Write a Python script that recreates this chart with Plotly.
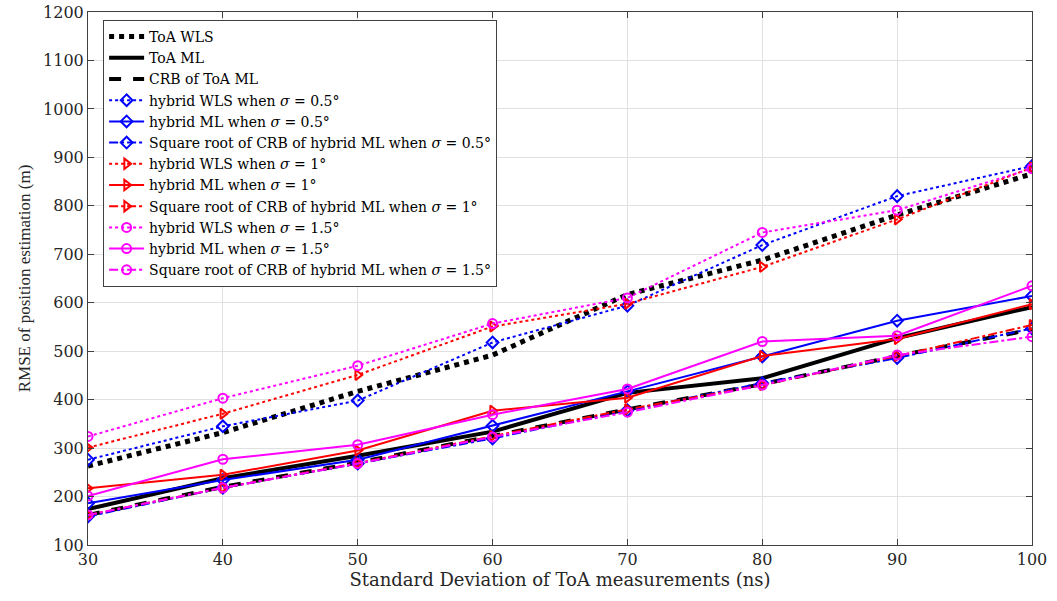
import plotly.graph_objects as go

x_ns = [30, 40, 50, 60, 70, 80, 90, 100]

toa_wls = [263, 332, 417, 492, 617, 688, 781, 866]
toa_ml = [174, 238, 284, 334, 414, 444, 527, 591]
toa_crb = [162, 220, 270, 325, 380, 432, 490, 545]

h05_wls = [276, 345, 398, 518, 594, 719, 820, 882]
h05_ml = [186, 234, 276, 346, 417, 489, 563, 614]
h05_crb = [159, 218, 268, 320, 378, 434, 486, 547]

h1_wls = [301, 371, 451, 551, 598, 674, 772, 879]
h1_ml = [217, 245, 295, 377, 404, 490, 525, 597]
h1_crb = [162, 218, 269, 325, 380, 430, 490, 554]

h15_wls = [324, 403, 470, 557, 610, 745, 791, 877]
h15_ml = [201, 277, 307, 369, 422, 520, 532, 635]
h15_crb = [162, 218, 268, 323, 374, 430, 492, 530]

def lab(kind, s):
    return f"{kind} when <i>σ</i> = {s}°"

series = [
    ("ToA WLS", toa_wls, "black", "dot", 5, None),
    ("ToA ML", toa_ml, "black", "solid", 4, None),
    ("CRB of ToA ML", toa_crb, "black", "dash", 4, None),
    (lab("hybrid WLS", "0.5"), h05_wls, "blue", "dot", 2, "diamond-open"),
    (lab("hybrid ML", "0.5"), h05_ml, "blue", "solid", 2, "diamond-open"),
    (lab("Square root of CRB of hybrid ML", "0.5"), h05_crb, "blue", "dashdot", 2, "diamond-open"),
    (lab("hybrid WLS", "1"), h1_wls, "red", "dot", 2, "triangle-right-open"),
    (lab("hybrid ML", "1"), h1_ml, "red", "solid", 2, "triangle-right-open"),
    (lab("Square root of CRB of hybrid ML", "1"), h1_crb, "red", "dashdot", 2, "triangle-right-open"),
    (lab("hybrid WLS", "1.5"), h15_wls, "magenta", "dot", 2, "circle-open"),
    (lab("hybrid ML", "1.5"), h15_ml, "magenta", "solid", 2, "circle-open"),
    (lab("Square root of CRB of hybrid ML", "1.5"), h15_crb, "magenta", "dashdot", 2, "circle-open"),
]

fig = go.Figure()
for name, ys, col, dash, w, sym in series:
    if sym:
        fig.add_trace(go.Scatter(
            x=x_ns, y=ys, name=name, mode="lines+markers",
            line=dict(color=col, dash=dash, width=w),
            marker=dict(symbol=sym, size=9, color=col, line=dict(width=2, color=col)),
        ))
    else:
        fig.add_trace(go.Scatter(
            x=x_ns, y=ys, name=name, mode="lines",
            line=dict(color=col, dash=dash, width=w),
        ))

axis_common = dict(
    showline=True, linecolor="#404040", linewidth=1, mirror="ticks",
    ticks="inside", ticklen=6, tickcolor="#404040",
    showgrid=True, gridcolor="#e0e0e0", gridwidth=1, zeroline=False,
    automargin=False, ticklabeloverflow="allow",
    tickfont=dict(family="DejaVu Serif", size=16, color="#262626"),
)

fig.update_layout(
    width=1057, height=601,
    margin=dict(l=88, r=25, t=12, b=56, autoexpand=False),
    plot_bgcolor="white", paper_bgcolor="white",
    font=dict(family="Liberation Serif", color="#262626"),
    xaxis=dict(range=[30, 100], dtick=10, tick0=30,
               title=dict(text="Standard Deviation of ToA measurements (ns)",
                          font=dict(family="DejaVu Serif", size=18), standoff=4),
               **axis_common),
    yaxis=dict(range=[100, 1200], dtick=100, tick0=100,
               title=dict(text="RMSE of position estimation (m)",
                          font=dict(family="Liberation Serif", size=17), standoff=8),
               **axis_common),
    legend=dict(x=0.016, y=0.985, xanchor="left", yanchor="top",
                bgcolor="white", bordercolor="#404040", borderwidth=1,
                font=dict(family="DejaVu Serif", size=14, color="black"),
                tracegroupgap=0, itemwidth=35),
    showlegend=True,
)

fig.write_html("out.html", config={"displayModeBar": False},
               post_script="document.body.style.margin='0px';")
